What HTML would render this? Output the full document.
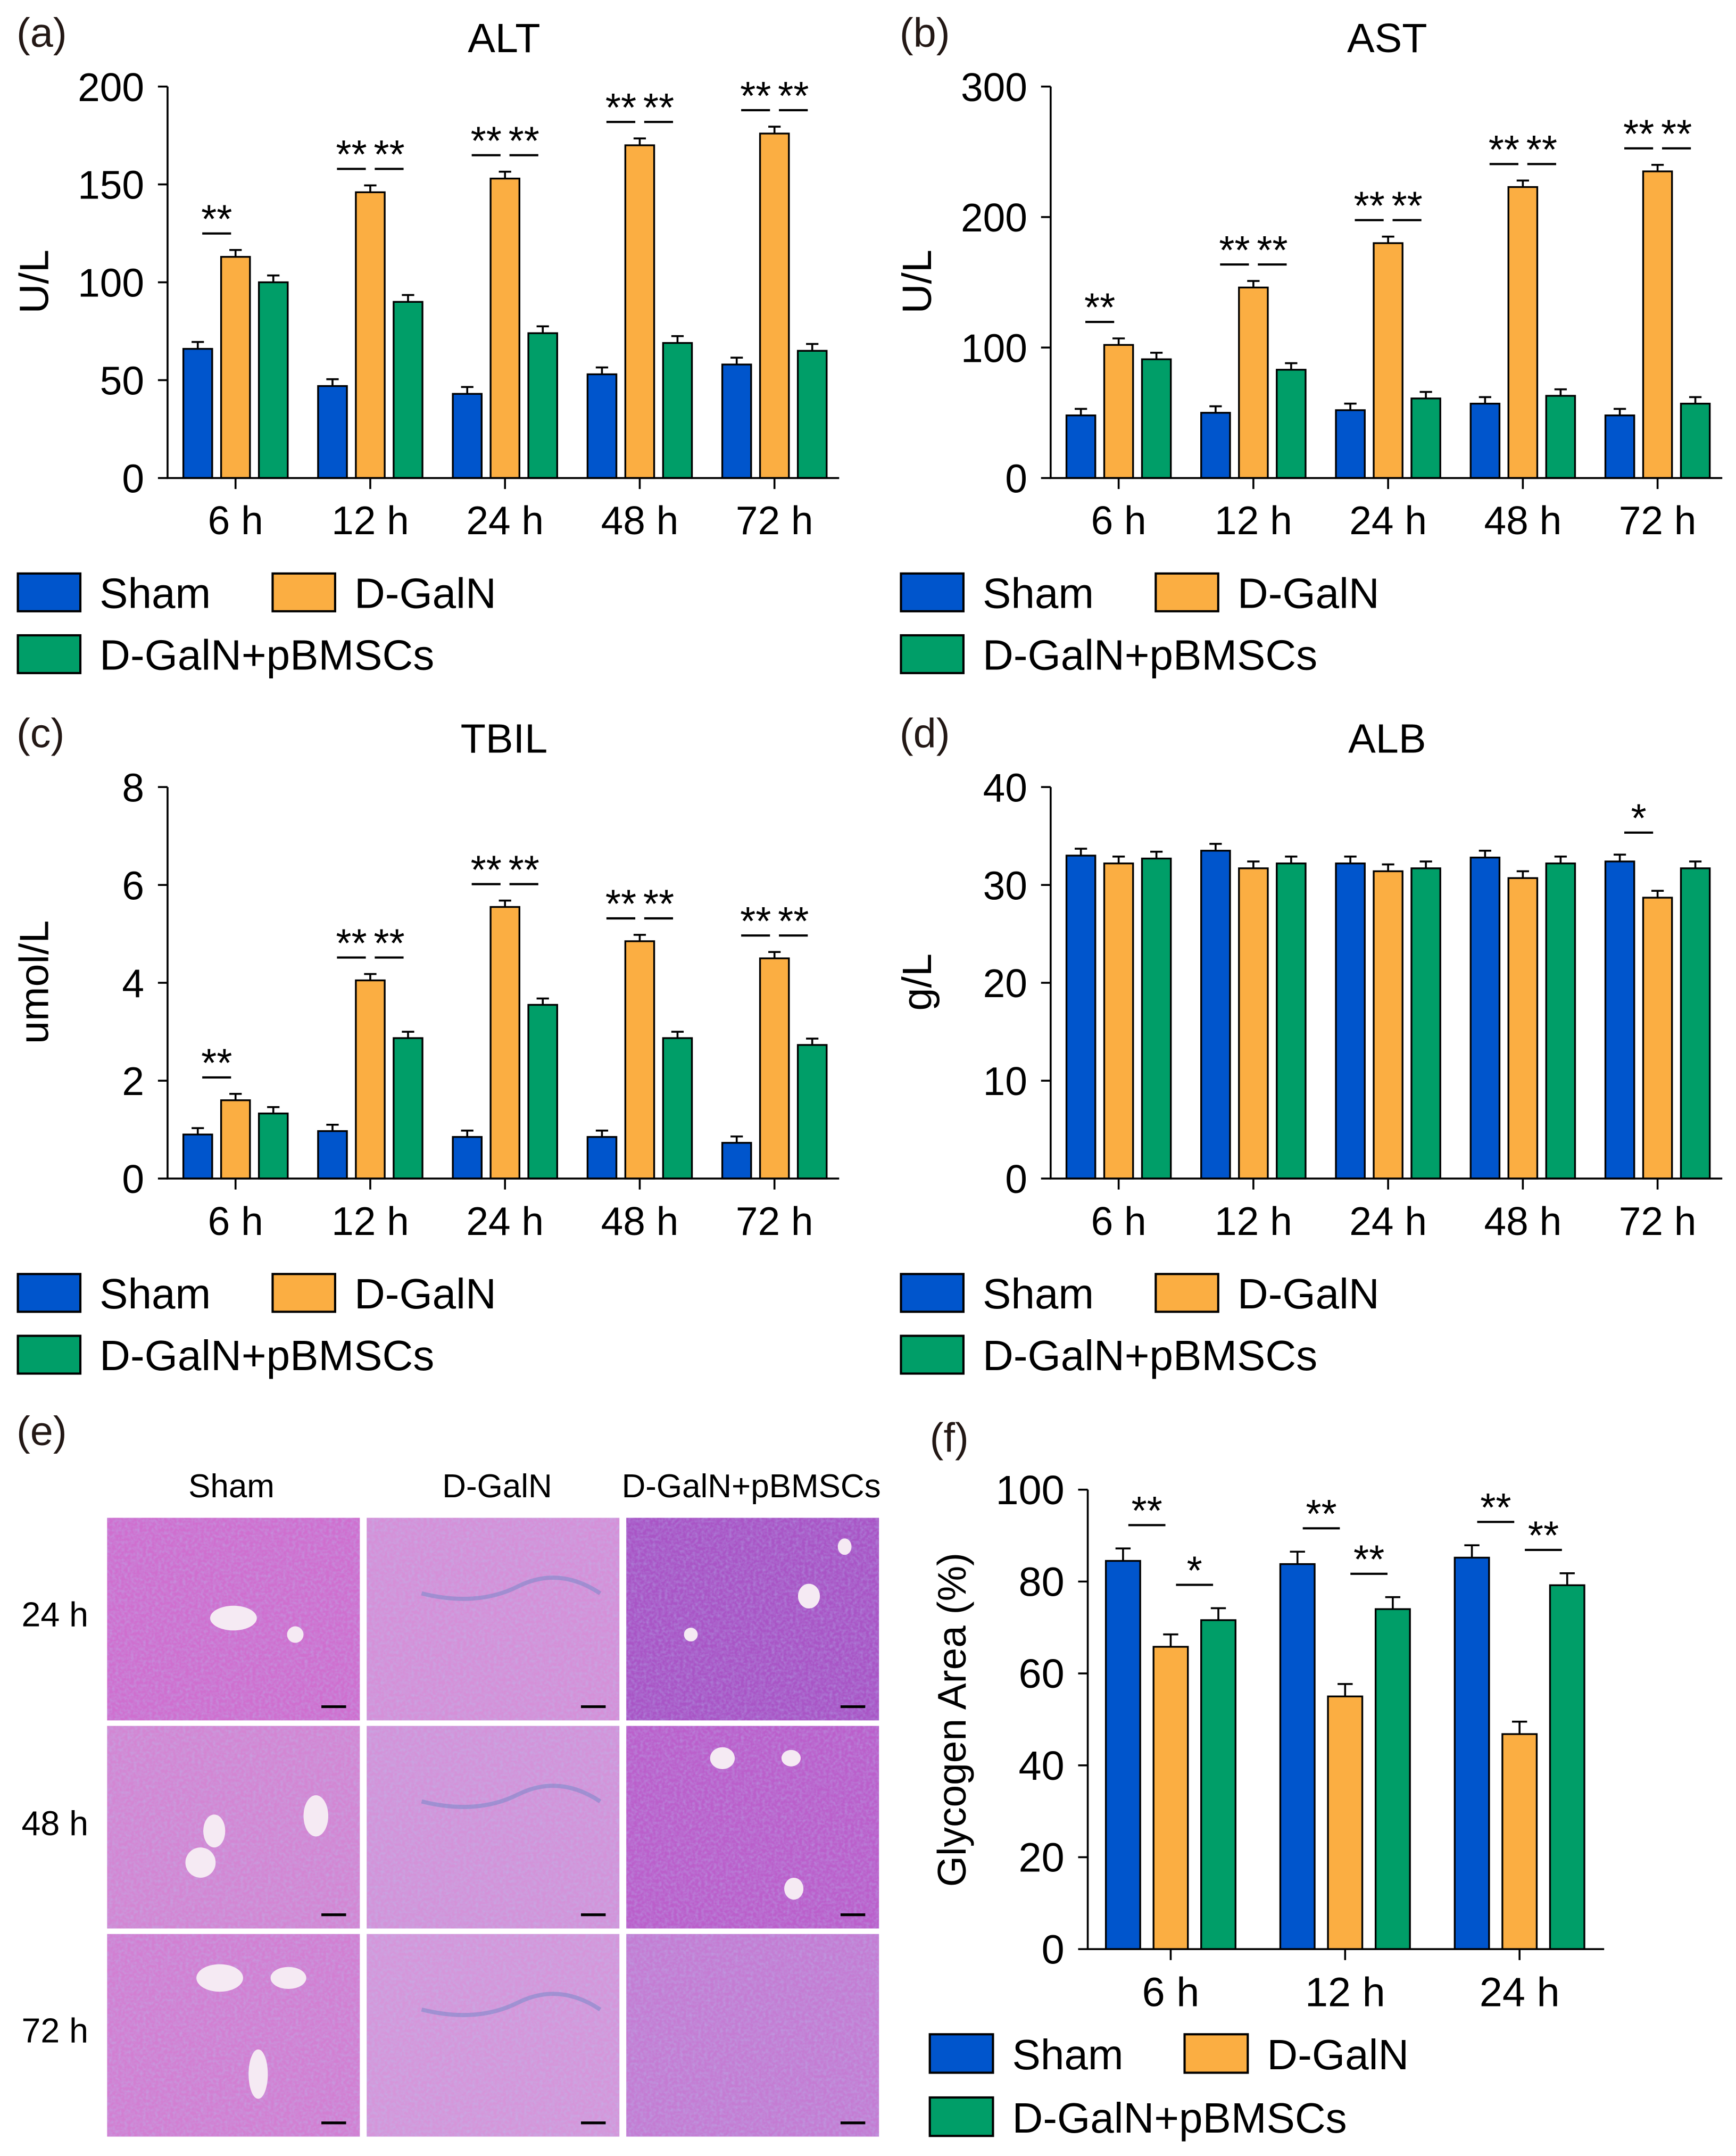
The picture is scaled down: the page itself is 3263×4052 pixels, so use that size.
<!DOCTYPE html>
<html><head><meta charset="utf-8">
<style>
html,body{margin:0;padding:0;background:#fff;}
svg{display:block;font-family:"Liberation Sans",Arial,sans-serif;}
</style></head>
<body>
<svg id="fig" xmlns="http://www.w3.org/2000/svg" width="3263" height="4052" viewBox="0 0 1264 1569.6">
<defs>
<filter id="tex" x="0" y="0" width="100%" height="100%">
<feTurbulence type="fractalNoise" baseFrequency="0.45" numOctaves="2" seed="4"/>
<feColorMatrix values="0 0 0 0 0.45  0 0 0 0 0.6  0 0 0 0 0.9  0 0 0 1.6 -0.55"/>
</filter>
</defs>
<rect x="0" y="0" width="1264" height="1569.6" fill="#fff"/>
<g id="histo">
<text x="12" y="1052" font-size="30" fill="#231815">(e)</text>
<text x="168.5" y="1090" font-size="24" text-anchor="middle">Sham</text>
<text x="362" y="1090" font-size="24" text-anchor="middle">D-GalN</text>
<text x="547" y="1090" font-size="24" text-anchor="middle">D-GalN+pBMSCs</text>
<text x="40" y="1184" font-size="25" text-anchor="middle">24 h</text>
<text x="40" y="1336" font-size="25" text-anchor="middle">48 h</text>
<text x="40" y="1487" font-size="25" text-anchor="middle">72 h</text>
</g>
<g id="charts"></g>
</svg>
<script>
// ---------- DATA ----------
const cats5 = ['6 h','12 h','24 h','48 h','72 h'];
const cats3 = ['6 h','12 h','24 h'];
const seriesNames = ['Sham','D-GalN','D-GalN+pBMSCs'];

const altTicks = [0,50,100,150,200];
const altSham = [66,47,43,53,58];
const altSham_err = [3.5,3.5,3.5,3.5,3.5];
const altDgal = [113,146,153,170,176];
const altDgal_err = [3.5,3.5,3.5,3.5,3.5];
const altPb = [100,90,74,69,65];
const altPb_err = [3.5,3.5,3.5,3.5,3.5];

const astTicks = [0,100,200,300];
const astSham = [48,50,52,57,48];
const astSham_err = [5,5,5,5,5];
const astDgal = [102,146,180,223,235];
const astDgal_err = [5,5,5,5,5];
const astPb = [91,83,61,63,57];
const astPb_err = [5,5,5,5,5];

const tbilTicks = [0,2,4,6,8];
const tbilSham = [0.9,0.97,0.85,0.85,0.73];
const tbilSham_err = [0.13,0.13,0.13,0.13,0.13];
const tbilDgal = [1.6,4.05,5.55,4.85,4.5];
const tbilDgal_err = [0.13,0.13,0.13,0.13,0.13];
const tbilPb = [1.33,2.87,3.55,2.87,2.73];
const tbilPb_err = [0.13,0.13,0.13,0.13,0.13];

const albTicks = [0,10,20,30,40];
const albSham = [33,33.5,32.2,32.8,32.4];
const albSham_err = [0.7,0.7,0.7,0.7,0.7];
const albDgal = [32.2,31.7,31.4,30.7,28.7];
const albDgal_err = [0.7,0.7,0.7,0.7,0.7];
const albPb = [32.7,32.2,31.7,32.2,31.7];
const albPb_err = [0.7,0.7,0.7,0.7,0.7];

const glyTicks = [0,20,40,60,80,100];
const glySham = [84.5,83.8,85.2];
const glySham_err = [2.7,2.7,2.7];
const glyDgal = [65.8,55,46.8];
const glyDgal_err = [2.7,2.7,2.7];
const glyPb = [71.6,74,79.2];
const glyPb_err = [2.6,2.6,2.6];

// significance: [group index, pair (0 = Sham vs D-GalN, 1 = D-GalN vs pBMSCs), label]
const altSig = [[0,0,'**'],[1,0,'**'],[1,1,'**'],[2,0,'**'],[2,1,'**'],[3,0,'**'],[3,1,'**'],[4,0,'**'],[4,1,'**']];
const astSig = [[0,0,'**'],[1,0,'**'],[1,1,'**'],[2,0,'**'],[2,1,'**'],[3,0,'**'],[3,1,'**'],[4,0,'**'],[4,1,'**']];
const tbilSig = [[0,0,'**'],[1,0,'**'],[1,1,'**'],[2,0,'**'],[2,1,'**'],[3,0,'**'],[3,1,'**'],[4,0,'**'],[4,1,'**']];
const albSig = [[4,0,'*']];
const glySig = [[0,0,'**'],[0,1,'*'],[1,0,'**'],[1,1,'**'],[2,0,'**'],[2,1,'**']];

// ---------- DRAWING ----------
const NS = 'http://www.w3.org/2000/svg';
const colors = ['#0055cc','#fbae42','#009e68'];
const root = document.getElementById('charts');
function mk(tag, attrs, parent){
  const e = document.createElementNS(NS, tag);
  for (const k in attrs) e.setAttribute(k, attrs[k]);
  (parent||root).appendChild(e);
  return e;
}

function chart(p){
  const g = mk('g', {});
  
  
  const maxV = p.ticks[p.ticks.length-1];
  const ys = v => p.yBot - v / maxV * (p.yBot - p.yTop);
  const xc = i => p.firstC + i * p.catStep;

  let t = mk('text', {x:p.letterX, y:p.letterY, 'font-size':30, fill:'#231815'}, g);
  t.textContent = p.letter;
  
  
  if (p.title){
    t = mk('text', {x:p.titleX, y:p.titleY, 'font-size':30, 'text-anchor':'middle'}, g);
    t.textContent = p.title;
    
    
  }
  t = mk('text', {x:0, y:0, 'font-size':p.ylabFs, 'text-anchor':'middle', transform:'translate('+p.ylabX+','+p.ylabY+') rotate(-90)'}, g);
  t.textContent = p.ylab;
  
  

  p.series.forEach((s, si) => {
    s.vals.forEach((v, i) => {
      const cx = xc(i) + (si - 1) * p.off;
      const y = ys(v);
      const r = mk('rect', {x:cx - p.bw/2, y:y, width:p.bw, height:p.yBot - y, fill:colors[si], stroke:'#000', 'stroke-width':1.3}, g);
      
      
      const ye = ys(v + s.errs[i]);
      const e = mk('path', {d:'M'+cx+' '+y+'V'+ye+'M'+(cx-p.cap/2)+' '+ye+'H'+(cx+p.cap/2), stroke:'#000', 'stroke-width':1.4, fill:'none'}, g);
      
      
    });
  });

  const ax = mk('path', {d:'M'+p.x0+' '+p.yTop+'V'+p.yBot+'H'+p.xEnd, stroke:'#000', 'stroke-width':1.4, fill:'none'}, g);
  
  
  p.ticks.forEach(v => {
    const y = ys(v);
    const tk = mk('line', {x1:p.x0-7, x2:p.x0, y1:y, y2:y, stroke:'#000', 'stroke-width':1.4}, g);
    
    
    const tl = mk('text', {x:p.x0-17, y:y+10.5, 'font-size':p.tickFs, 'text-anchor':'end'}, g);
    tl.textContent = v;
    
    
  });
  p.cats.forEach((c, i) => {
    const x = xc(i);
    const tk = mk('line', {x1:x, x2:x, y1:p.yBot, y2:p.yBot+8, stroke:'#000', 'stroke-width':1.4}, g);
    
    
    const tl = mk('text', {x:x, y:p.yBot+p.xlabDy, 'font-size':p.tickFs, 'text-anchor':'middle'}, g);
    tl.textContent = c;
    
    
  });

  p.sig.forEach(sg => {
    const gi = sg[0], pair = sg[1];
    const a = pair, b = pair + 1;
    const topA = p.series[a].vals[gi] + p.series[a].errs[gi];
    const topB = p.series[b].vals[gi] + p.series[b].errs[gi];
    const ly = ys(Math.max(topA, topB)) - p.sigOff;
    const mid = xc(gi) + ((a + b) / 2 - 1) * p.off;
    const ln = mk('line', {x1:mid - p.sigHalf, x2:mid + p.sigHalf, y1:ly, y2:ly, stroke:'#000', 'stroke-width':1.6}, g);
    
    
    const st = mk('text', {x:mid, y:ly - 0.5, 'font-size':29, 'text-anchor':'middle'}, g);
    st.textContent = sg[2];
    
    
  });

  const L = p.leg;
  const lg = mk('g', {}, g);
  
  
  const pos = [[L.x1, L.y1],[L.x2, L.y1],[L.x1, L.y2]];
  pos.forEach((q, si) => {
    const r = mk('rect', {x:q[0], y:q[1], width:L.w, height:L.h, fill:colors[si], stroke:'#000', 'stroke-width':1.6}, lg);
    
    
    const tx = mk('text', {x:q[0] + L.w + 14, y:q[1] + L.h - 2.5, 'font-size':31}, lg);
    tx.textContent = seriesNames[si];
    
    
  });
}

function base(dx, dy){
  return {x0:122+dx, xEnd:611+dx, yTop:63+dy, yBot:348+dy, firstC:171.5+dx, catStep:98.1, off:27.5, bw:21, cap:9,
    letterX:12+dx, letterY:34+dy, titleX:367+dx, titleY:38+dy, ylabX:35+dx, ylabY:205+dy, ylabFs:30, tickFs:29, xlabDy:41,
    sigOff:12, sigHalf:10.5,
    leg:{x1:13+dx, x2:198.5+dx, y1:417.5+dy, y2:462.5+dy, w:45.5, h:27.5}};
}
function S(v1,e1,v2,e2,v3,e3){ return [{vals:v1,errs:e1},{vals:v2,errs:e2},{vals:v3,errs:e3}]; }

chart(Object.assign(base(0,0), {id:'alt', letter:'(a)', title:'ALT', ylab:'U/L', ticks:altTicks, cats:cats5,
  series:S(altSham,altSham_err,altDgal,altDgal_err,altPb,altPb_err), sig:altSig}));
chart(Object.assign(base(643,0), {id:'ast', letter:'(b)', title:'AST', ylab:'U/L', ticks:astTicks, cats:cats5,
  series:S(astSham,astSham_err,astDgal,astDgal_err,astPb,astPb_err), sig:astSig}));
chart(Object.assign(base(0,510), {id:'tbil', letter:'(c)', title:'TBIL', ylab:'umol/L', ticks:tbilTicks, cats:cats5,
  series:S(tbilSham,tbilSham_err,tbilDgal,tbilDgal_err,tbilPb,tbilPb_err), sig:tbilSig}));
chart(Object.assign(base(643,510), {id:'alb', letter:'(d)', title:'ALB', ylab:'g/L', ticks:albTicks, cats:cats5,
  series:S(albSham,albSham_err,albDgal,albDgal_err,albPb,albPb_err), sig:albSig, sigOff:16}));
chart({id:'glycogen', letter:'(f)', title:null, ylab:'Glycogen Area (%)', ticks:glyTicks, cats:cats3,
  series:S(glySham,glySham_err,glyDgal,glyDgal_err,glyPb,glyPb_err), sig:glySig,
  x0:792, xEnd:1168, yTop:1084.5, yBot:1419, firstC:852.4, catStep:127, off:34.7, bw:25, cap:11,
  letterX:677, letterY:1057, ylabX:703, ylabY:1252, ylabFs:29, tickFs:30, xlabDy:41.5, sigOff:17, sigHalf:13.5,
  leg:{x1:677, x2:862.5, y1:1481, y2:1527, w:46, h:28}});

// ---------- HISTOLOGY TILES ----------
const H = document.getElementById('histo');
const colX = [78, 267, 456];
const rowY = [1105, 1256.5, 1408];
const tileW = 184, tileH = 147.5;
const tileColors = [['#cf6fcf','#d590d8','#a955c6'],['#d386d3','#d393d9','#bb5fcb'],['#d27fd2','#d596da','#c47cd3']];
const veins = [
  [[[170,1178,17,9]],[[215,1190,6,6]],[[589,1162,8,9],[503,1190,5,5],[615,1126,5,6]]],
  [[[156,1333,8,12],[146,1356,11,11],[230,1322,9,15]],[],[[526,1280,9,8],[576,1280,7,6],[578,1375,7,8]]],
  [[[160,1440,17,10],[210,1440,13,8],[188,1510,7,18]],[],[]]
];
const colTag = ['sham','dgaln','dgaln-pbmscs'];
for (let r = 0; r < 3; r++){
  for (let c = 0; c < 3; c++){
    const tg = document.createElementNS(NS,'g');
    
    
    H.appendChild(tg);
    mk('rect', {x:colX[c], y:rowY[r], width:tileW, height:tileH, fill:tileColors[r][c]}, tg);
    mk('rect', {x:colX[c], y:rowY[r], width:tileW, height:tileH, filter:'url(#tex)', opacity:0.4}, tg);
    veins[r][c].forEach(v => {
      mk('ellipse', {cx:v[0], cy:v[1], rx:v[2], ry:v[3], fill:'#f5eaf3'}, tg);
    });
    if (c === 1){
      mk('path', {d:'M'+(colX[c]+40)+' '+(rowY[r]+55)+' q40 10 70 -5 t60 5', stroke:'#6f86c8', 'stroke-width':3, fill:'none', opacity:0.5}, tg);
    }
    const sb = mk('line', {x1:colX[c]+tileW-28, x2:colX[c]+tileW-10, y1:rowY[r]+tileH-10, y2:rowY[r]+tileH-10, stroke:'#000', 'stroke-width':2}, tg);
    
    
  }
}
</script>
</body></html>
